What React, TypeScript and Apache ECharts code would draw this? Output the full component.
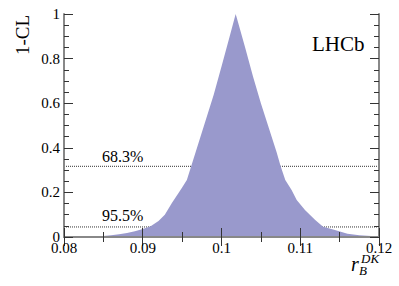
import React, { useEffect, useRef } from "react";
import * as echarts from "echarts";

const rB = [0.080, 0.082, 0.083, 0.084, 0.085, 0.086, 0.087, 0.088, 0.089, 0.090, 0.091, 0.092, 0.0928, 0.0937, 0.0945, 0.0950, 0.0956, 0.096, 0.097, 0.098, 0.099, 0.100, 0.101, 0.1018, 0.102, 0.103, 0.104, 0.105, 0.106, 0.107, 0.1075, 0.1081, 0.1089, 0.10955, 0.1106, 0.1119, 0.1129, 0.1144, 0.1160, 0.1175, 0.1190, 0.1200];
const oneMinusCL = [0, 0, 0.001, 0.002, 0.004, 0.008, 0.012, 0.018, 0.026, 0.036, 0.048, 0.072, 0.10, 0.152, 0.195, 0.222, 0.256, 0.30, 0.413, 0.525, 0.637, 0.765, 0.895, 1.0, 0.975, 0.85, 0.72, 0.60, 0.49, 0.38, 0.318, 0.256, 0.211, 0.166, 0.121, 0.076, 0.046, 0.031, 0.015, 0.008, 0.004, 0.002];
const clLevels = [0.317, 0.045];
const clLabels = ["68.3%", "95.5%"];
const xRange = [0.08, 0.12];

const FONT = "Liberation Serif";

export default function App() {
  const ref = useRef<HTMLDivElement>(null);
  useEffect(() => {
    if (!ref.current) return;
    const chart = echarts.init(ref.current, undefined, { renderer: "svg" });
    const axisLine = { show: true, lineStyle: { color: "#888", width: 2 } };
    const xCommon = {
      type: "value",
      min: xRange[0],
      max: xRange[1],
      interval: 0.01,
      axisLine,
      axisTick: { show: true, inside: true, length: 9, lineStyle: { color: "#333", width: 1 } },
      minorTick: { show: true, splitNumber: 2, length: 5, lineStyle: { color: "#333", width: 1 } },
      splitLine: { show: false },
      z: 10,
    };
    const yCommon = {
      type: "value",
      min: 0,
      max: 1,
      interval: 0.2,
      axisLine,
      axisTick: { show: true, inside: true, length: 9, lineStyle: { color: "#333", width: 1 } },
      minorTick: { show: true, splitNumber: 4, length: 5, lineStyle: { color: "#333", width: 1 } },
      splitLine: { show: false },
      z: 10,
    };
    const series: any[] = clLevels.map((lv) => ({
      type: "line",
      data: [[xRange[0], lv], [xRange[1], lv]],
      symbol: "none",
      lineStyle: { color: "#333", width: 1, type: "dotted" },
      silent: true,
      z: 1,
    }));
    series.push({
      type: "line",
      data: rB.map((x, i) => [x, oneMinusCL[i]]),
      symbol: "none",
      lineStyle: { width: 0 },
      areaStyle: { color: "#9999cc", opacity: 1 },
      silent: true,
      z: 2,
    });
    chart.setOption({
      animation: false,
      grid: { left: 64, right: 20, top: 14, bottom: 49 },
      xAxis: [
        {
          ...xCommon,
          position: "bottom",
          axisLabel: { show: true, color: "#000", fontFamily: FONT, fontSize: 15, margin: 3 },
        },
        { ...xCommon, position: "top", axisLabel: { show: false } },
      ],
      yAxis: [
        {
          ...yCommon,
          position: "left",
          axisLabel: { show: true, color: "#000", fontFamily: FONT, fontSize: 15, margin: 4 },
        },
        { ...yCommon, position: "right", axisLabel: { show: false } },
      ],
      series,
      graphic: [
        {
          type: "text",
          x: 22,
          y: 35,
          rotation: Math.PI / 2,
          style: { text: "1-CL", font: `19px '${FONT}'`, fill: "#000", align: "center", verticalAlign: "middle" },
        },
        {
          type: "text",
          x: 312,
          y: 54,
          style: { text: "LHCb", font: `21px '${FONT}'`, fill: "#000", align: "left", verticalAlign: "bottom" },
        },
        {
          type: "text",
          x: 102,
          y: 164,
          style: { text: clLabels[0], font: `16px '${FONT}'`, fill: "#000", align: "left", verticalAlign: "bottom" },
        },
        {
          type: "text",
          x: 102,
          y: 223,
          style: { text: clLabels[1], font: `16px '${FONT}'`, fill: "#000", align: "left", verticalAlign: "bottom" },
        },
        {
          type: "text",
          x: 351,
          y: 274,
          style: { text: "r", font: `italic 20px '${FONT}'`, fill: "#000", align: "left", verticalAlign: "bottom" },
        },
        {
          type: "text",
          x: 361,
          y: 265,
          style: { text: "DK", font: `italic 13px '${FONT}'`, fill: "#000", align: "left", verticalAlign: "bottom" },
        },
        {
          type: "text",
          x: 359,
          y: 277,
          style: { text: "B", font: `italic 13px '${FONT}'`, fill: "#000", align: "left", verticalAlign: "bottom" },
        },
      ],
    });
    return () => chart.dispose();
  }, []);
  return <div ref={ref} style={{ position: "absolute", left: 0, top: 0, width: 399, height: 286 }} />;
}
